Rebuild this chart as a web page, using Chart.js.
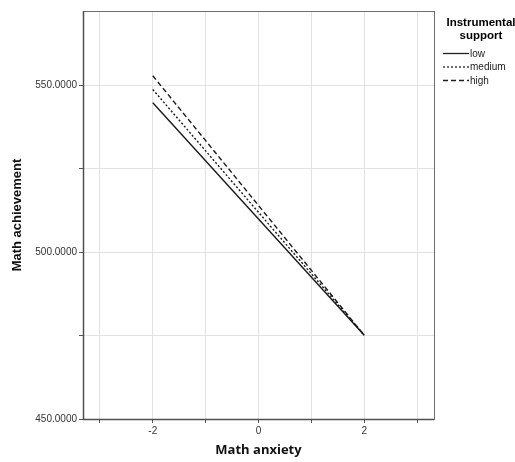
<!DOCTYPE html>
<html>
<head>
<meta charset="utf-8">
<script src="https://cdn.jsdelivr.net/npm/chart.js@4/dist/chart.umd.min.js"></script>
<style>
  html, body { margin: 0; padding: 0; background: #fff; }
  #wrap { width: 515px; height: 462px; }
</style>
</head>
<body>
<div id="wrap"><canvas id="chart" width="515" height="462"></canvas></div>
<script>
// data
const anxiety = [-2, 2];
const lowSupport = [544.7, 475.1];
const mediumSupport = [548.7, 475.1];
const highSupport = [552.8, 475.1];
const seriesNames = ['low', 'medium', 'high'];
const xLabelTicks = [-2, 0, 2];
const yLabelTicks = [450, 500, 550];

const toPoints = (vals) => anxiety.map((x, i) => ({ x: x, y: vals[i] }));

// frame round the plot area + the legend on the right
const framePlugin = {
    id: 'frame',
    afterDraw(chart) {
        const { ctx, chartArea: a } = chart;
        ctx.save();
        ctx.strokeStyle = '#6e6e6e';
        ctx.lineWidth = 1;
        ctx.strokeRect(a.left + 0.5, a.top + 0.5, a.right - a.left, a.bottom - a.top);
        ctx.strokeStyle = '#505050';
        ctx.lineWidth = 1.5;
        ctx.beginPath();
        ctx.moveTo(a.left + 0.5, a.top);
        ctx.lineTo(a.left + 0.5, a.bottom + 0.5);
        ctx.lineTo(a.right, a.bottom + 0.5);
        ctx.stroke();

        // legend
        ctx.fillStyle = '#000';
        ctx.textAlign = 'center';
        ctx.textBaseline = 'middle';
        ctx.font = 'bold 11.5px "Liberation Sans", Arial, sans-serif';
        ctx.fillText('Instrumental', 481, 23);
        ctx.fillText('support', 481, 36);
        ctx.font = '10px "Liberation Sans", Arial, sans-serif';
        ctx.textAlign = 'left';
        chart.data.datasets.forEach((ds, i) => {
            const y = 53 + i * 13.5;
            ctx.strokeStyle = '#222';
            ctx.lineWidth = 1.3;
            ctx.setLineDash(ds.borderDash || []);
            ctx.beginPath();
            ctx.moveTo(443, y + 0.5);
            ctx.lineTo(469, y + 0.5);
            ctx.stroke();
            ctx.setLineDash([]);
            ctx.fillStyle = '#222';
            ctx.fillText(ds.label, 470, y + 1);
        });
        ctx.restore();
    }
};

const lineStyle = { borderColor: '#1a1a1a', borderWidth: 1.4, pointRadius: 0, showLine: true, fill: false };

new Chart(document.getElementById('chart'), {
    type: 'scatter',
    data: {
        datasets: [
            { label: seriesNames[0], data: toPoints(lowSupport), ...lineStyle, borderDash: [] },
            { label: seriesNames[1], data: toPoints(mediumSupport), ...lineStyle, borderDash: [2, 2] },
            { label: seriesNames[2], data: toPoints(highSupport), ...lineStyle, borderDash: [5, 3] }
        ]
    },
    options: {
        responsive: false,
        animation: false,
        layout: { padding: { top: 11, right: 81, bottom: 0, left: 0 } },
        plugins: { legend: { display: false }, tooltip: { enabled: false } },
        scales: {
            x: {
                type: 'linear',
                min: -3.32,
                max: 3.32,
                afterFit(scale) { scale.height = 43; },
                border: { display: false },
                grid: { color: '#e2e2e2', tickColor: '#555', tickLength: 4, lineWidth: 1 },
                ticks: {
                    stepSize: 1,
                    includeBounds: false,
                    autoSkip: false,
                    maxRotation: 0,
                    padding: 2,
                    color: '#333',
                    font: { family: '"Liberation Sans", Arial, sans-serif', size: 10 },
                    callback: (v) => xLabelTicks.includes(v) ? String(v) : ''
                },
                title: {
                    display: true,
                    text: 'Math anxiety',
                    color: '#111',
                    padding: { top: 0, bottom: 4 },
                    font: { family: '"Open Sans", Arial, sans-serif', size: 13, weight: 'bold' }
                }
            },
            y: {
                type: 'linear',
                min: 450,
                max: 572.2,
                afterFit(scale) { scale.width = 83; },
                border: { display: false },
                grid: { color: '#e2e2e2', tickColor: '#555', tickLength: 4, lineWidth: 1 },
                ticks: {
                    stepSize: 25,
                    includeBounds: false,
                    autoSkip: false,
                    padding: 2,
                    color: '#333',
                    font: { family: '"Liberation Sans", Arial, sans-serif', size: 10 },
                    callback: (v) => yLabelTicks.includes(v) ? v.toFixed(4) : ''
                },
                title: {
                    display: true,
                    text: 'Math achievement',
                    color: '#111',
                    padding: { top: 10, bottom: 0 },
                    font: { family: '"Liberation Sans", Arial, sans-serif', size: 13, weight: 'bold' }
                }
            }
        }
    },
    plugins: [framePlugin]
});
</script>
</body>
</html>
